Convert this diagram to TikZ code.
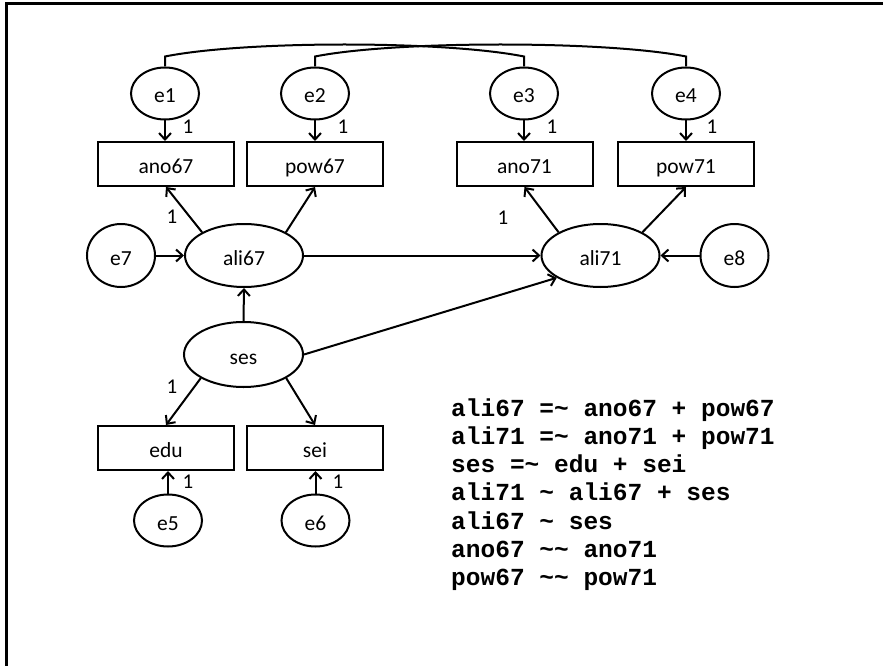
\documentclass[tikz,border=0pt]{standalone}
\usepackage{fontspec}
\setmainfont{Carlito}
\newfontfamily\eqfont{Liberation Mono}
\usetikzlibrary{shapes.geometric,arrows.meta}
\begin{document}
\begin{tikzpicture}[x=1pt,y=-1pt,
  lat/.style={draw,ellipse,line width=2pt,inner sep=0pt,text height=19pt,text depth=0pt,font=\fontsize{21.5}{24}\selectfont},
  obs/.style={draw,rectangle,line width=2pt,minimum width=136pt,minimum height=44pt,inner sep=0pt,text height=18pt,text depth=0pt,font=\fontsize{21.5}{24}\selectfont},
  err/.style={lat,minimum width=68pt,minimum height=52pt},
  errb/.style={lat,minimum width=68pt,minimum height=63pt},
  fac/.style={lat,minimum width=118pt,minimum height=63pt},
  pth/.style={line width=2pt,-{Straight Barb[length=6.5pt,width=12pt]}},
  cov/.style={line width=2pt},
  one/.style={font=\fontsize{21}{22}\selectfont,inner sep=0pt},
  eq/.style={anchor=base west,inner sep=0pt,font=\eqfont\bfseries\fontsize{24.5}{28}\selectfont}]
\useasboundingbox (0,0) rectangle (883,666);
\draw[line width=3pt] (6,666) -- (6,4) -- (883,4);

% error terms top
\node[err] (e1) at (165,93.5) {e1};
\node[err] (e2) at (315,93.5) {e2};
\node[err] (e3) at (524,93.5) {e3};
\node[err] (e4) at (686,93.5) {e4};
% indicators
\node[obs] (ano67) at (166,164) {ano67};
\node[obs] (pow67) at (315,164) {pow67};
\node[obs] (ano71) at (524.5,164) {ano71};
\node[obs] (pow71) at (686,164) {pow71};
% latent
\node[errb] (e7) at (121,255.5) {e7};
\node[fac] (ali67) at (244,255.5) {ali67};
\node[fac] (ali71) at (600.5,255.5) {ali71};
\node[errb] (e8) at (734.5,255.5) {e8};
\node[lat,minimum width=119pt,minimum height=65pt] (ses) at (243.5,354.5) {ses};
\node[obs] (edu) at (166,448) {edu};
\node[obs] (sei) at (315,448) {sei};
\node[err] (e5) at (168,520.5) {e5};
\node[err] (e6) at (315.5,520.5) {e6};

% covariance arcs
\coordinate (t1) at ([yshift=10pt]e1.north);
\coordinate (t2) at ([yshift=10pt]e2.north);
\coordinate (t3) at ([yshift=10pt]e3.north);
\coordinate (t4) at ([yshift=10pt]e4.north);
\draw[cov] (e1.north) -- (t1) .. controls +(80,-16) and +(-80,-16) .. (t3) -- (e3.north);
\draw[cov] (e2.north) -- (t2) .. controls +(80,-16) and +(-80,-16) .. (t4) -- (e4.north);

% error to indicator
\draw[pth] (e1.south) -- (e1.south |- ano67.north);
\draw[pth] (e2.south) -- (e2.south |- pow67.north);
\draw[pth] (e3.south) -- (e3.south |- ano71.north);
\draw[pth] (e4.south) -- (e4.south |- pow71.north);
\draw[pth] (e5.north) -- (e5.north |- edu.south);
\draw[pth] (e6.north) -- (e6.north |- sei.south);

% loadings
\draw[pth] (ali67.151) -- (ano67.south);
\draw[pth] (ali67.29) -- (pow67.south);
\draw[pth] (ali71.151) -- (ano71.south);
\draw[pth] (ali71.29) -- (pow71.south);
\draw[pth] (ses.209) -- (edu.north);
\draw[pth] (ses.331) -- (sei.north);

% structural
\draw[pth] (e7) -- (ali67);
\draw[pth] (e8) -- (ali71);
\draw[pth] (ali67) -- (ali71);
\draw[pth] (ses.north) -- (ali67.south);
\draw[pth] (ses.east) -- (ali71.207);

% labels 1
\node[one] (l1) at (188,127) {1};
\node[one] (l2) at (343,127) {1};
\node[one] (l3) at (552,127) {1};
\node[one] (l4) at (712,127) {1};
\node[one] (l5) at (172,217) {1};
\node[one] (l6) at (503,218) {1};
\node[one] (l7) at (172,387) {1};
\node[one] (l8) at (188,482) {1};
\node[one] (l9) at (338,482) {1};

% model syntax
\node[eq] (q1) at (451,416) {ali67 =\string~ ano67 + pow67};
\node[eq] (q2) at (451,444.3) {ali71 =\string~ ano71 + pow71};
\node[eq] (q3) at (451,472.6) {ses =\string~ edu + sei};
\node[eq] (q4) at (451,500.9) {ali71 \string~ ali67 + ses};
\node[eq] (q5) at (451,529.2) {ali67 \string~ ses};
\node[eq] (q6) at (451,557.5) {ano67 \string~\string~ ano71};
\node[eq] (q7) at (451,585.8) {pow67 \string~\string~ pow71};
\end{tikzpicture}
\end{document}
